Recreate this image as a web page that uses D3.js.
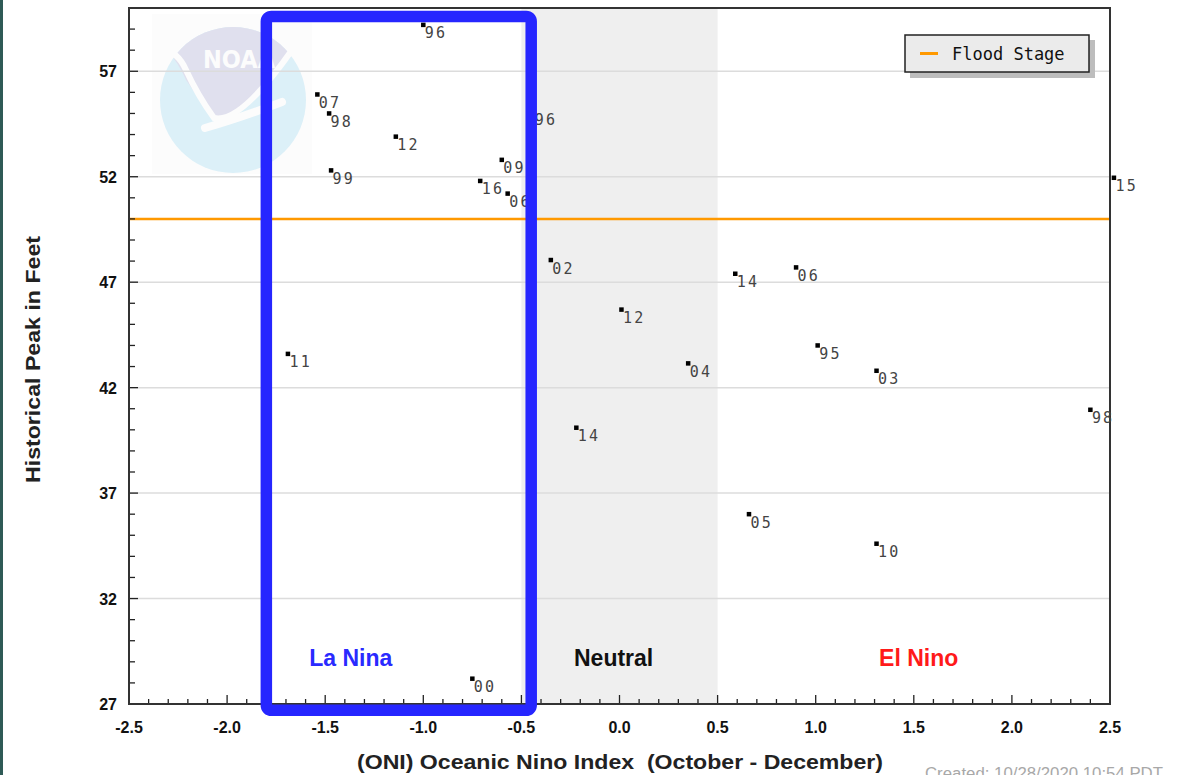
<!DOCTYPE html>
<html lang="en">
<head>
  <meta charset="UTF-8">
  <title>Historical Peak vs ONI</title>
  <script src="https://d3js.org/d3.v7.min.js"></script>
  <style>
    body { margin: 0; background: #fff; }
    svg { display: block; }
    .tick-label { font-family: "Liberation Sans", Arial, sans-serif; font-weight: bold; font-size: 16px; fill: #111; }
    .axis-title { font-family: "Liberation Sans", Arial, sans-serif; font-weight: bold; font-size: 21px; fill: #222; }
    .pt-label { font-family: "DejaVu Sans Mono", monospace; font-size: 15px; letter-spacing: 2.2px; fill: #444; }
    .region { font-family: "Liberation Sans", Arial, sans-serif; font-weight: bold; font-size: 23px; }
  </style>
</head>
<body>
  <div id="chart"></div>
  <script>
    // year label, ONI (Oct-Dec) and historical peak stage in feet
    const years = ["96", "07", "98", "12", "99", "09", "16", "06", "96", "11", "00",
                   "02", "12", "04", "14",
                   "14", "06", "95", "03", "98", "05", "10", "15"];
    const oni = [-1.00, -1.54, -1.48, -1.14, -1.47, -0.60, -0.71, -0.57, -0.44, -1.69, -0.75,
                 -0.35, 0.01, 0.35, -0.22,
                 0.59, 0.90, 1.01, 1.31, 2.40, 0.66, 1.31, 2.52];
    const peak = [59.2, 55.9, 55.0, 53.9, 52.3, 52.8, 51.8, 51.2, 55.1, 43.6, 28.2,
                  48.05, 45.7, 43.15, 40.1,
                  47.4, 47.7, 44.0, 42.8, 40.95, 36.0, 34.6, 51.95];

    const floodStage = 50;
    const neutralBand = [-0.5, 0.5];
    const laNinaBox = { x0: -1.8, x1: -0.45, y0: 26.7, y1: 59.6 };
    const regions = [
      { name: "La Nina", at: -1.37, color: "#2a2aff" },
      { name: "Neutral", at: -0.03, color: "#111" },
      { name: "El Nino", at: 1.525, color: "#ff1a1a" }
    ];
    const regionLabelY = 28.8;
    const xTicks = [-2.5, -2.0, -1.5, -1.0, -0.5, 0.0, 0.5, 1.0, 1.5, 2.0, 2.5];
    const yTicks = [27, 32, 37, 42, 47, 52, 57];

    const width = 1180, height = 775;
    const x = d3.scaleLinear().domain([-2.5, 2.5]).range([129, 1110]);
    const y = d3.scaleLinear().domain([27, 60]).range([704, 8]);

    const svg = d3.select("#chart").append("svg").attr("width", width).attr("height", height);

    // dark left edge of the screenshot
    svg.append("rect").attr("x", 0).attr("y", 0).attr("width", 3).attr("height", height).attr("fill", "#2e5a56");

    // neutral band
    svg.append("rect")
      .attr("x", x(neutralBand[0])).attr("y", y(60))
      .attr("width", x(neutralBand[1]) - x(neutralBand[0]))
      .attr("height", y(27) - y(60))
      .attr("fill", "#efefef");

    // faint NOAA watermark
    const logo = svg.append("g");
    logo.append("rect").attr("x", 152).attr("y", 14).attr("width", 160).attr("height", 160).attr("fill", "#fcfcfc");
    logo.append("clipPath").attr("id", "logoClip")
      .append("circle").attr("cx", 233).attr("cy", 100).attr("r", 73);
    logo.append("circle").attr("cx", 233).attr("cy", 100).attr("r", 73).attr("fill", "#dcf0f8");
    logo.append("path")
      .attr("clip-path", "url(#logoClip)")
      .attr("d", "M150,20 L320,20 L320,45 Q300,46 292,55 Q270,85 240,112 Q228,122 214,120 Q200,100 186,80 Q178,62 168,52 L150,52 Z")
      .attr("fill", "#e0e0ee");
    logo.append("path")
      .attr("d", "M160,52 Q176,48 186,70 Q198,96 214,118 Q240,124 292,50")
      .attr("fill", "none").attr("stroke", "#fcfcfc").attr("stroke-width", 6);
    logo.append("path")
      .attr("d", "M205,128 Q240,118 282,102")
      .attr("fill", "none").attr("stroke", "#fcfcfc").attr("stroke-width", 8).attr("stroke-linecap", "round");
    logo.append("text")
      .attr("x", 203).attr("y", 68)
      .attr("font-family", "DejaVu Sans").attr("font-weight", "bold").attr("font-size", 25)
      .attr("font-stretch", "condensed")
      .attr("fill", "#fcfcfc").text("NOAA");

    // horizontal grid lines
    svg.append("g").selectAll("line")
      .data(yTicks.filter(d => d > 27))
      .join("line")
      .attr("x1", x(-2.5)).attr("x2", x(2.5))
      .attr("y1", d => y(d)).attr("y2", d => y(d))
      .attr("stroke", "#dcdcdc").attr("stroke-width", 1.5);

    // flood stage line
    svg.append("line")
      .attr("x1", x(-2.5)).attr("x2", x(2.5))
      .attr("y1", y(floodStage)).attr("y2", y(floodStage))
      .attr("stroke", "#ff9900").attr("stroke-width", 2.5);

    // axes (ticks point inward)
    const xMinor = d3.range(-25, 26).map(d => d / 10);
    const yMinor = d3.range(27, 61);

    const xAxis = svg.append("g").attr("transform", `translate(0,${y(27)})`);
    xAxis.selectAll("line")
      .data(xMinor)
      .join("line")
      .attr("x1", d => x(d)).attr("x2", d => x(d))
      .attr("y1", 0)
      .attr("y2", d => (Math.abs(d * 2 - Math.round(d * 2)) < 1e-6 ? -9 : -5))
      .attr("stroke", "#222").attr("stroke-width", 1.3);
    xAxis.selectAll("text")
      .data(xTicks)
      .join("text")
      .attr("class", "tick-label")
      .attr("x", d => x(d)).attr("y", 29)
      .attr("text-anchor", "middle")
      .text(d => d.toFixed(1));

    const yAxis = svg.append("g").attr("transform", `translate(${x(-2.5)},0)`);
    yAxis.selectAll("line")
      .data(yMinor)
      .join("line")
      .attr("x1", 0).attr("x2", d => ((d - 27) % 5 === 0 ? 9 : 6))
      .attr("y1", d => y(d)).attr("y2", d => y(d))
      .attr("stroke", "#222").attr("stroke-width", 1.3);
    yAxis.selectAll("text")
      .data(yTicks)
      .join("text")
      .attr("class", "tick-label")
      .attr("x", -12).attr("y", d => y(d) + 6)
      .attr("text-anchor", "end")
      .text(d => d);

    // plot frame
    svg.append("rect")
      .attr("x", x(-2.5)).attr("y", y(60))
      .attr("width", x(2.5) - x(-2.5)).attr("height", y(27) - y(60))
      .attr("fill", "none").attr("stroke", "#333").attr("stroke-width", 2);

    // axis titles
    svg.append("text")
      .attr("class", "axis-title")
      .attr("x", 357).attr("y", 769)
      .attr("textLength", 526).attr("lengthAdjust", "spacingAndGlyphs")
      .attr("xml:space", "preserve")
      .text("(ONI) Oceanic Nino Index  (October - December)");
    svg.append("text")
      .attr("class", "axis-title")
      .attr("transform", "translate(40,483) rotate(-90)")
      .attr("textLength", 247).attr("lengthAdjust", "spacingAndGlyphs")
      .text("Historical Peak in Feet");

    // points and year labels
    const pts = years.map((yr, i) => ({ yr, oni: oni[i], peak: peak[i] }));
    svg.append("g").selectAll("rect")
      .data(pts)
      .join("rect")
      .attr("x", d => x(d.oni) - 2.25).attr("y", d => y(d.peak) - 2.25)
      .attr("width", 4.5).attr("height", 4.5)
      .attr("fill", "#000");
    svg.append("g").selectAll("text")
      .data(pts)
      .join("text")
      .attr("class", "pt-label")
      .attr("x", d => x(d.oni) + 1.5).attr("y", d => y(d.peak) + 13.5)
      .text(d => d.yr);

    // ENSO phase labels
    svg.append("g").selectAll("text")
      .data(regions)
      .join("text")
      .attr("class", "region")
      .attr("x", d => x(d.at)).attr("y", y(regionLabelY))
      .attr("text-anchor", "middle")
      .attr("fill", d => d.color)
      .text(d => d.name);

    // legend
    const lg = svg.append("g").attr("transform", "translate(905,35)");
    lg.append("rect").attr("x", 5).attr("y", 5).attr("width", 185).attr("height", 38).attr("fill", "#bdbdbd");
    lg.append("rect").attr("x", 0).attr("y", 0).attr("width", 184).attr("height", 37)
      .attr("fill", "#ebebeb").attr("stroke", "#222").attr("stroke-width", 1.5);
    lg.append("line").attr("x1", 15).attr("x2", 33).attr("y1", 18.5).attr("y2", 18.5)
      .attr("stroke", "#ff9900").attr("stroke-width", 3);
    lg.append("text").attr("x", 47).attr("y", 25)
      .attr("font-family", "DejaVu Sans Mono").attr("font-size", 17).attr("fill", "#111")
      .text("Flood Stage");

    // hand-drawn La Nina highlight box
    svg.append("rect")
      .attr("x", x(laNinaBox.x0)).attr("y", y(laNinaBox.y1))
      .attr("width", x(laNinaBox.x1) - x(laNinaBox.x0))
      .attr("height", y(laNinaBox.y0) - y(laNinaBox.y1))
      .attr("rx", 5).attr("ry", 5)
      .attr("fill", "none").attr("stroke", "#2626ff").attr("stroke-width", 11.5);

    // creation stamp (cut by the bottom edge, as in the screenshot)
    svg.append("text")
      .attr("x", 925).attr("y", 779)
      .attr("font-family", "Liberation Sans, Arial, sans-serif").attr("font-size", 16)
      .attr("textLength", 238).attr("lengthAdjust", "spacingAndGlyphs")
      .attr("fill", "#a8a8a8")
      .text("Created: 10/28/2020 10:54 PDT");
  </script>
</body>
</html>
